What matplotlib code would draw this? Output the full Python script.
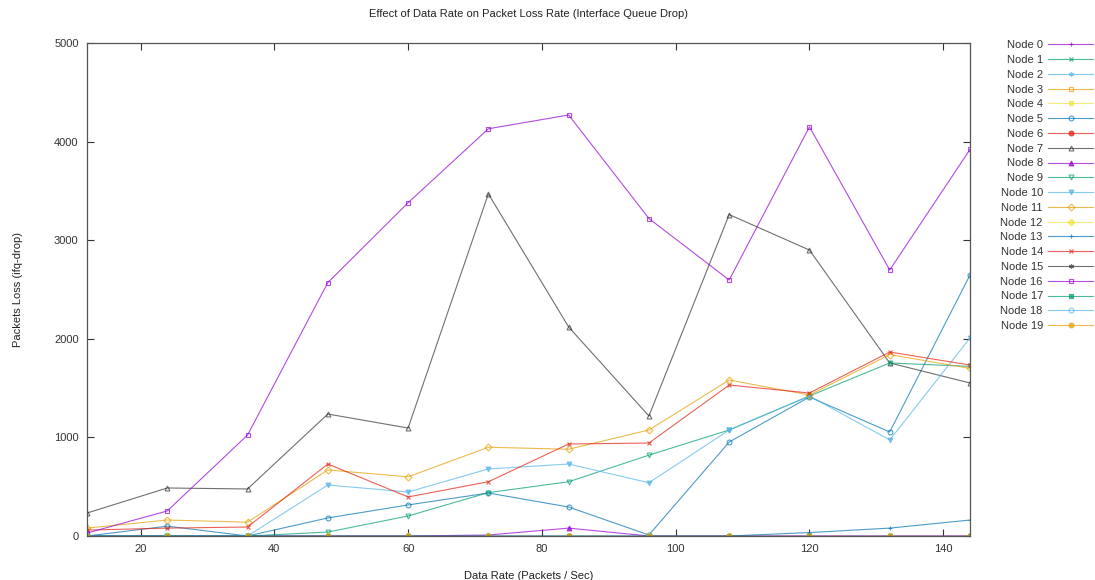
import matplotlib.pyplot as plt
import numpy as np

# x values (packets / sec)
rates = [12, 24, 36, 48, 60, 72, 84, 96, 108, 120, 132, 144]

zeros = [0] * 12
node5 = [0, 100, 0, 183, 315, 436, 294, 10, 953, 1410, 1055, 2647]
node7 = [233, 487, 477, 1237, 1095, 3470, 2120, 1217, 3260, 2900, 1755, 1552]
node8 = [0, 0, 0, 0, 0, 10, 80, 0, 0, 0, 0, 0]
node9 = [0, 0, 0, 40, 203, 440, 550, 820, 1075, 1420, 1755, 1720]
node10 = [0, 0, 0, 517, 446, 680, 730, 540, 1075, 1420, 974, 2008]
node11 = [80, 162, 140, 670, 600, 900, 880, 1075, 1582, 1430, 1840, 1700]
node13 = [0, 0, 0, 0, 0, 0, 0, 0, 0, 35, 80, 162]
node14 = [60, 80, 91, 730, 396, 550, 933, 943, 1531, 1450, 1866, 1734]
node16 = [30, 254, 1024, 2570, 3380, 4130, 4270, 3220, 2596, 4150, 2698, 3920]

series = [zeros, zeros, zeros, zeros, zeros, node5, zeros, node7, node8, node9,
          node10, node11, zeros, node13, node14, zeros, node16, zeros, zeros, zeros]
labels = ["Node %d" % i for i in range(20)]

# gnuplot default line colours and point types
colors = ["#9400d3", "#009e73", "#56b4e9", "#e69f00", "#f0e442", "#0072b2", "#e51e10", "#333333"]
pts = [("+", True), ("x", True), ((6, 2, 0), True), ("s", False), ("s", True),
       ("o", False), ("o", True), ("^", False), ("^", True), ("v", False),
       ("v", True), ("D", False), ("D", True)]

plt.rcParams['font.family'] = ['Liberation Sans', 'DejaVu Sans']
fig = plt.figure(figsize=(10.95, 5.8), dpi=100)
ax = fig.add_axes([87 / 1095, 1 - 536 / 580, (970 - 87) / 1095, (536 - 43) / 580])

for i, (vals, lab) in enumerate(zip(series, labels)):
    c = colors[i % 8]
    m, filled = pts[i % 13]
    ax.plot(rates, vals, color=c, lw=0.8, marker=m, ms=3.5, mew=0.8,
            mfc=c if filled else "none", mec=c, label=lab, alpha=0.7)

ax.set_xlim(12, 144)
ax.set_ylim(0, 5000)
ax.set_xticks([20, 40, 60, 80, 100, 120, 140])
ax.set_yticks([0, 1000, 2000, 3000, 4000, 5000])
ax.tick_params(direction="in", top=True, right=True, length=5, labelsize=8,
               colors="#333333", pad=6)
for s in ax.spines.values():
    s.set_color("#555555")
    s.set_linewidth(0.9)

ax.set_title("Effect of Data Rate on Packet Loss Rate (Interface Queue Drop)",
             fontsize=8, color="#222222", pad=19)
ax.set_xlabel("Data Rate (Packets / Sec)", fontsize=8, color="#222222", labelpad=12)
ax.set_ylabel("Packets Loss (ifq-drop)", fontsize=8, color="#222222", labelpad=22)

fig.legend(loc="upper right", bbox_to_anchor=(1.0, 1 - 38 / 580), frameon=False,
           fontsize=8, markerfirst=False, handlelength=4.0, handletextpad=0.5,
           labelspacing=0.43, borderaxespad=0, borderpad=0.2, labelcolor="#333333")

fig.savefig("out.png", dpi=100)
